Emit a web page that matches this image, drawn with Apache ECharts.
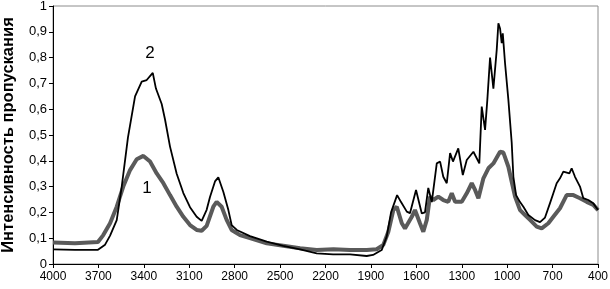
<!DOCTYPE html>
<html>
<head>
<meta charset="utf-8">
<script src="https://cdn.jsdelivr.net/npm/echarts@6/dist/echarts.min.js"></script>
<style>
html,body{margin:0;padding:0;background:#fff;}
#c{width:610px;height:289px;}
</style>
</head>
<body>
<div id="c"></div>
<script>
// Wavenumber ticks (cm-1)
const xTicks = [400, 700, 1000, 1300, 1600, 1900, 2200, 2500, 2800, 3100, 3400, 3700, 4000];

// Curve 2 (black, thin): [wavenumber, transmission]
const curve2 = [
  [4000,0.057],[3855,0.055],[3703,0.055],[3656,0.075],[3623,0.11],[3579,0.17],[3546,0.30],
  [3505,0.49],[3458,0.65],[3414,0.707],[3381,0.713],[3341,0.741],[3320,0.68],[3282,0.62],
  [3260,0.56],[3227,0.455],[3183,0.35],[3139,0.275],[3095,0.22],[3051,0.183],[3018,0.167],
  [2985,0.21],[2963,0.26],[2930,0.32],[2908,0.336],[2875,0.28],[2842,0.21],[2820,0.151],
  [2786,0.132],[2699,0.108],[2588,0.087],[2479,0.070],[2368,0.057],[2258,0.041],[2150,0.037],
  [2038,0.037],[1928,0.031],[1886,0.035],[1829,0.054],[1796,0.106],[1767,0.2],[1727,0.267],
  [1701,0.24],[1663,0.203],[1642,0.197],[1602,0.287],[1564,0.196],[1543,0.2],[1521,0.295],
  [1498,0.24],[1465,0.39],[1443,0.397],[1422,0.338],[1399,0.313],[1377,0.43],[1358,0.397],
  [1323,0.448],[1293,0.345],[1267,0.403],[1223,0.435],[1184,0.39],[1168,0.61],[1146,0.52],
  [1131,0.636],[1113,0.80],[1091,0.68],[1069,0.83],[1058,0.933],[1047,0.913],[1036,0.856],
  [1029,0.894],[1014,0.778],[992,0.636],[970,0.47],[959,0.338],[941,0.267],[915,0.24],
  [893,0.222],[860,0.19],[816,0.17],[783,0.162],[750,0.18],[717,0.236],[695,0.274],
  [673,0.313],[651,0.332],[629,0.358],[618,0.364],[589,0.351],[574,0.371],[552,0.338],
  [519,0.30],[497,0.255],[464,0.248],[431,0.235],[400,0.209]
];

// Curve 1 (grey, thick)
const curve1 = [
  [4000,0.083],[3855,0.08],[3703,0.085],[3668,0.112],[3623,0.158],[3579,0.222],[3536,0.30],
  [3491,0.364],[3447,0.406],[3403,0.419],[3359,0.397],[3315,0.351],[3271,0.313],[3227,0.267],
  [3183,0.222],[3139,0.183],[3095,0.151],[3051,0.132],[3018,0.129],[2985,0.148],[2941,0.222],
  [2919,0.241],[2886,0.222],[2853,0.171],[2820,0.132],[2765,0.112],[2699,0.1],[2588,0.08],
  [2479,0.071],[2368,0.061],[2258,0.054],[2148,0.057],[2038,0.054],[1928,0.054],[1862,0.057],
  [1818,0.074],[1785,0.125],[1752,0.209],[1729,0.222],[1696,0.158],[1675,0.138],[1630,0.183],
  [1609,0.209],[1576,0.158],[1554,0.125],[1531,0.171],[1510,0.261],[1488,0.248],[1455,0.261],
  [1422,0.248],[1389,0.241],[1366,0.274],[1344,0.241],[1300,0.241],[1267,0.274],[1234,0.313],
  [1212,0.287],[1190,0.255],[1157,0.332],[1124,0.371],[1091,0.39],[1047,0.435],[1025,0.432],
  [992,0.377],[970,0.319],[948,0.261],[915,0.209],[882,0.19],[849,0.171],[805,0.145],
  [772,0.138],[728,0.158],[695,0.183],[651,0.216],[607,0.267],[563,0.267],[519,0.255],
  [475,0.241],[431,0.229],[400,0.209]
];

// Curve labels: [wavenumber, value, text]
const curveLabels = [[3359, 0.818, '2'], [3379, 0.295, '1']];

const FONT = 'Liberation Sans, Arial, sans-serif';
const labelPoint = l => ({
  coord: [l[0], l[1]], value: l[2], name: l[2],
  symbol: 'circle', symbolSize: 1, itemStyle: {color: 'rgba(0,0,0,0)'},
  label: {show: true, position: 'inside', color: '#000', fontFamily: FONT, fontSize: 17, formatter: l[2]}
});
const chart = echarts.init(document.getElementById('c'), null, {renderer: 'canvas'});
chart.setOption({
  animation: false,
  backgroundColor: '#fff',
  grid: {left: 53, top: 6, right: 12, bottom: 25, containLabel: false, outerBoundsMode: 'none',
    show: true, borderColor: '#8c8c8c', borderWidth: 1, backgroundColor: 'transparent'},
  xAxis: {
    type: 'value', min: 400, max: 4000, inverse: true,
    axisLine: {show: true, onZero: false, lineStyle: {color: '#000', width: 1}},
    axisTick: {show: true, length: 4, lineStyle: {color: '#000'}, customValues: xTicks},
    axisLabel: {customValues: xTicks, color: '#000', fontFamily: FONT, fontSize: 12, margin: 7,
      formatter: v => String(v)},
    splitLine: {show: false}
  },
  yAxis: {
    type: 'value', min: 0, max: 1, interval: 0.1,
    name: 'Интенсивность пропускания', nameLocation: 'middle', nameGap: 36, nameRotate: 90,
    nameTextStyle: {color: '#000', fontFamily: FONT, fontSize: 16.5, fontWeight: 'bold'},
    axisLine: {show: true, lineStyle: {color: '#000', width: 1}},
    axisTick: {show: true, length: 4, lineStyle: {color: '#000'}},
    axisLabel: {color: '#000', fontFamily: FONT, fontSize: 13, margin: 6,
      formatter: v => String(Math.round(v * 10) / 10).replace('.', ',')},
    splitLine: {show: false}
  },
  series: [
    {
      name: '1', type: 'line', data: curve1, showSymbol: false, smooth: false,
      lineStyle: {color: '#5a5a5a', width: 4}, z: 2,
      markPoint: {silent: true, data: [labelPoint(curveLabels[1])]}
    },
    {
      name: '2', type: 'line', data: curve2, showSymbol: false, smooth: false,
      lineStyle: {color: '#000', width: 1.8}, z: 3,
      markPoint: {silent: true, data: [labelPoint(curveLabels[0])]}
    }
  ]
});
</script>
</body>
</html>
